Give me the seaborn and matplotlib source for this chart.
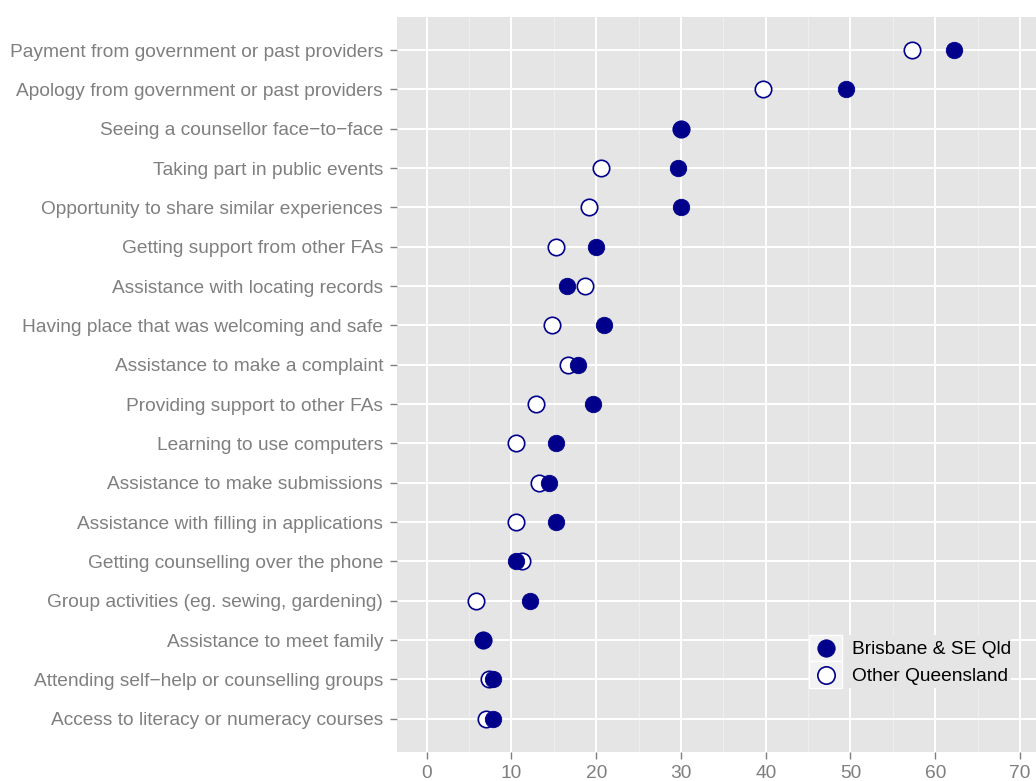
import matplotlib
matplotlib.use('Agg')
import matplotlib.pyplot as plt
import seaborn as sns
import pandas as pd
from matplotlib.lines import Line2D
from matplotlib.patches import Rectangle
from matplotlib.legend_handler import HandlerBase

# Data: % of respondents per service, by region
items = [
    'Payment from government or past providers',
    'Apology from government or past providers',
    'Seeing a counsellor face\u2212to\u2212face',
    'Taking part in public events',
    'Opportunity to share similar experiences',
    'Getting support from other FAs',
    'Assistance with locating records',
    'Having place that was welcoming and safe',
    'Assistance to make a complaint',
    'Providing support to other FAs',
    'Learning to use computers',
    'Assistance to make submissions',
    'Assistance with filling in applications',
    'Getting counselling over the phone',
    'Group activities (eg. sewing, gardening)',
    'Assistance to meet family',
    'Attending self\u2212help or counselling groups',
    'Access to literacy or numeracy courses',
]
brisbane = [62.2, 49.5, 30.0, 29.6, 30.0, 20.0, 16.6, 20.9, 17.8, 19.6,
            15.2, 14.4, 15.2, 10.5, 12.2, 6.6, 7.8, 7.8]
other_qld = [57.2, 39.7, 30.0, 20.6, 19.1, 15.2, 18.7, 14.8, 16.7, 12.9,
             10.5, 13.2, 10.5, 11.3, 5.8, 6.6, 7.4, 7.0]
regions = ['Brisbane & SE Qld', 'Other Queensland']

df = pd.DataFrame({
    'item': items * 2,
    'pct': brisbane + other_qld,
    'region': [regions[0]] * len(items) + [regions[1]] * len(items),
})

navy = '#00008B'
grey_txt = '#7F7F7F'
fs = 13.75

sns.set_style('darkgrid', {'axes.facecolor': '#E5E5E5', 'grid.color': 'white'})
plt.rcParams['font.family'] = ['Liberation Sans', 'DejaVu Sans']


# legend key: light grey box with the point in the middle (ggplot look)
class KeyHandler(HandlerBase):
    def create_artists(self, legend, orig_handle, xdescent, ydescent,
                       width, height, fontsize, trans):
        box = Rectangle((-xdescent, -ydescent), width, height,
                        facecolor='#F2F2F2', edgecolor='white', linewidth=1,
                        transform=trans)
        pt = Line2D([width / 2 - xdescent], [height / 2 - ydescent],
                    marker='o', linestyle='',
                    markersize=orig_handle.get_markersize(),
                    markerfacecolor=orig_handle.get_markerfacecolor(),
                    markeredgecolor=orig_handle.get_markeredgecolor(),
                    markeredgewidth=orig_handle.get_markeredgewidth(),
                    transform=trans)
        return [box, pt]


fig = plt.figure(figsize=(10.36, 7.81), dpi=100)
ax = fig.add_axes([0.3832, 0.0375, 0.630, 0.9407])

# open circles first, filled ones on top
sns.scatterplot(data=df[df.region == regions[1]], x='pct', y='item',
                color='white', edgecolor=navy, linewidth=1.2, s=140,
                ax=ax, zorder=3)
sns.scatterplot(data=df[df.region == regions[0]], x='pct', y='item',
                color=navy, edgecolor=navy, linewidth=0.6, s=140,
                ax=ax, zorder=4)

ax.set_xlim(-3.5, 73.5)
ax.set_ylim(len(items) - 1 + 0.84, -0.84)
ax.set_xticks(range(0, 71, 10))
ax.set_xticks(range(5, 71, 10), minor=True)
ax.grid(which='major', color='white', linewidth=1.4)
ax.grid(which='minor', axis='x', color='#F2F2F2', linewidth=0.6)
ax.set_axisbelow(True)
for sp in ax.spines.values():
    sp.set_visible(False)

ax.tick_params(axis='both', which='major', left=True, bottom=True,
               length=5, width=1, color=grey_txt,
               labelcolor=grey_txt, labelsize=fs)
ax.tick_params(axis='y', pad=5)
ax.tick_params(axis='x', pad=4.3)
ax.tick_params(axis='x', which='minor', bottom=False, length=0)
ax.set_xlabel('')
ax.set_ylabel('')

h_bris = Line2D([], [], marker='o', linestyle='', markersize=12.5,
                markerfacecolor=navy, markeredgecolor=navy, markeredgewidth=0.6)
h_other = Line2D([], [], marker='o', linestyle='', markersize=12.5,
                 markerfacecolor='white', markeredgecolor=navy, markeredgewidth=1.2)
leg = ax.legend([h_bris, h_other], regions,
                handler_map={h_bris: KeyHandler(), h_other: KeyHandler()},
                loc='upper left', bbox_to_anchor=(809 / 1036, 1 - 635 / 781),
                bbox_transform=fig.transFigure, fontsize=fs,
                handlelength=1.75, handleheight=1.75, labelspacing=0,
                handletextpad=0.5, borderpad=0, borderaxespad=0,
                frameon=True, fancybox=False, framealpha=1,
                facecolor='#E5E5E5', edgecolor='none', labelcolor='black')

fig.savefig('out.png', dpi=100)
